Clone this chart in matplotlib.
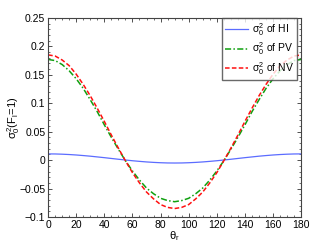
import matplotlib.pyplot as plt
from matplotlib.ticker import MultipleLocator

plt.rcParams['font.family'] = ['Liberation Sans', 'DejaVu Sans']
plt.rcParams['mathtext.fontset'] = 'custom'
plt.rcParams['mathtext.rm'] = 'Liberation Sans'
plt.rcParams['mathtext.it'] = 'Liberation Sans'

# angle in degrees, every 5
theta = list(range(0, 185, 5))

# values (0..90, mirrored for 95..180)
hi_half = [0.0110, 0.0109, 0.0105, 0.0099, 0.0091, 0.0081, 0.0070, 0.0057, 0.0044, 0.0030,
           0.0016, 0.0003, -0.0010, -0.0021, -0.0031, -0.0039, -0.0045, -0.0049, -0.0050]
pv_half = [0.177, 0.175, 0.168, 0.157, 0.143, 0.126, 0.106, 0.085, 0.062, 0.040,
           0.019, -0.001, -0.019, -0.035, -0.049, -0.059, -0.067, -0.071, -0.073]
nv_half = [0.185, 0.183, 0.176, 0.166, 0.151, 0.133, 0.113, 0.091, 0.068, 0.044,
           0.021, -0.001, -0.022, -0.040, -0.056, -0.068, -0.078, -0.083, -0.085]

hi = hi_half + hi_half[-2::-1]
pv = pv_half + pv_half[-2::-1]
nv = nv_half + nv_half[-2::-1]

fig = plt.figure(figsize=(3.32, 2.42), dpi=100)
ax = fig.add_axes([0.145, 0.103, 0.762, 0.823])

ax.plot(theta, hi, color='#5b6cff', lw=0.9, label=r'$\sigma_0^2$ of HI')
ax.plot(theta, pv, color='#10a010', lw=1.1, ls='-.', dashes=(4, 1.5, 1, 1.5), label=r'$\sigma_0^2$ of PV')
ax.plot(theta, nv, color='#ff1010', lw=1.1, ls='--', dashes=(3, 1.5), label=r'$\sigma_0^2$ of NV')

ax.set_xlim(0, 180)
ax.set_ylim(-0.1, 0.25)
ax.xaxis.set_major_locator(MultipleLocator(20))
ax.xaxis.set_minor_locator(MultipleLocator(5))
ax.yaxis.set_major_locator(MultipleLocator(0.05))
ax.yaxis.set_minor_locator(MultipleLocator(0.01))
ax.yaxis.set_major_formatter(plt.FuncFormatter(lambda v, p: ('%g' % round(v, 3)).replace('-', '\u2212')))

ax.tick_params(which='both', direction='in', top=True, right=True, labelsize=7.5,
               colors='#333333', labelcolor='black', pad=2)
ax.tick_params(which='major', length=3, width=0.6)
ax.tick_params(which='minor', length=1.5, width=0.5)
for s in ax.spines.values():
    s.set_color('#444444')
    s.set_linewidth(0.8)

ax.set_xlabel(r'$\theta_r$', fontsize=8)
ax.xaxis.set_label_coords(0.5, -0.06)
ax.set_ylabel(r'$\sigma_0^2(F_l\!=\!1)$', fontsize=8)
ax.yaxis.set_label_coords(-0.105, 0.5)

leg = ax.legend(loc='upper right', fontsize=7.5, frameon=True, fancybox=False, shadow=False,
                borderaxespad=0.0, handlelength=2.2, handletextpad=0.4, labelspacing=0.25,
                borderpad=0.3, bbox_to_anchor=(0.985, 1.0))
leg.get_frame().set_edgecolor('#444444')
leg.get_frame().set_linewidth(1.0)

fig.savefig('out.png', dpi=100)
